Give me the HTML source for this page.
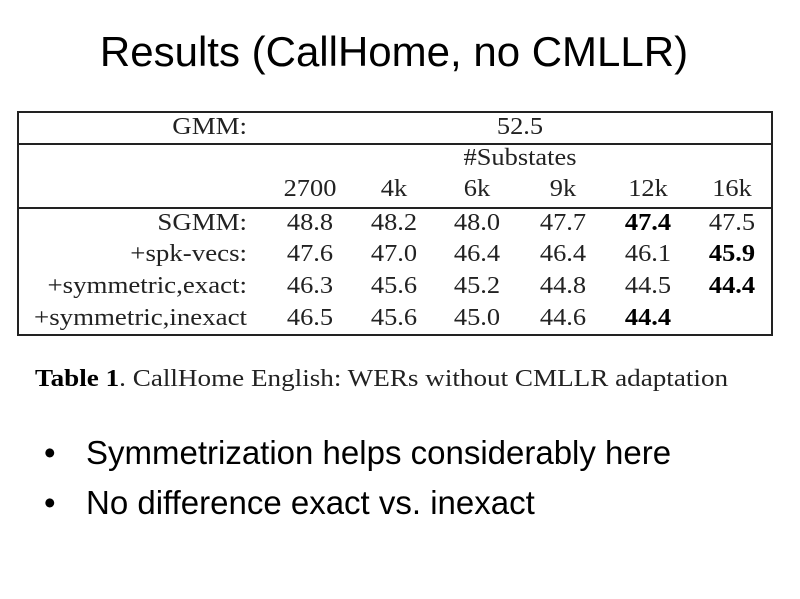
<!DOCTYPE html>
<html><head><meta charset="utf-8"><style>
body{margin:0;width:800px;height:599px;background:#fff;position:relative;overflow:hidden;font-family:"Liberation Sans",sans-serif;color:#000}
.a{position:absolute;white-space:nowrap}
.t{font-family:"Liberation Serif",serif;font-size:24px;color:#222}
.c{transform:translateX(-50%) scaleX(1.1)}
.r{transform-origin:right center;transform:translateX(-100%) scaleX(1.12)}
.b{font-weight:bold;color:#000}
.l{position:absolute;background:#222}
</style></head><body>
<div class="a" style="left:0;width:800px;text-align:center;top:28px;font-size:42px;transform:translateX(-6px)">Results (CallHome, no CMLLR)</div>
<div class="l" style="left:17px;top:111px;width:756px;height:2px"></div>
<div class="l" style="left:17px;top:334px;width:756px;height:2px"></div>
<div class="l" style="left:17px;top:111px;width:2px;height:225px"></div>
<div class="l" style="left:771px;top:111px;width:2px;height:225px"></div>
<div class="l" style="left:17px;top:143px;width:756px;height:2px"></div>
<div class="l" style="left:17px;top:207px;width:756px;height:2px"></div>

<div class="a t r" style="left:247px;top:114px">GMM:</div>
<div class="a t c" style="left:520px;top:114px">52.5</div>
<div class="a t c" style="left:520px;top:145px">#Substates</div>
<div class="a t c" style="left:310px;top:176px">2700</div>
<div class="a t c" style="left:394px;top:176px">4k</div>
<div class="a t c" style="left:477px;top:176px">6k</div>
<div class="a t c" style="left:563px;top:176px">9k</div>
<div class="a t c" style="left:648px;top:176px">12k</div>
<div class="a t c" style="left:732px;top:176px">16k</div>

<div class="a t r" style="left:247px;top:210px">SGMM:</div>
<div class="a t r" style="left:247px;top:241px">+spk-vecs:</div>
<div class="a t r" style="left:247px;top:273px">+symmetric,exact:</div>
<div class="a t r" style="left:247px;top:305px">+symmetric,inexact</div>

<div class="a t c" style="left:310px;top:210px">48.8</div>
<div class="a t c" style="left:394px;top:210px">48.2</div>
<div class="a t c" style="left:477px;top:210px">48.0</div>
<div class="a t c" style="left:563px;top:210px">47.7</div>
<div class="a t c b" style="left:648px;top:210px">47.4</div>
<div class="a t c" style="left:732px;top:210px">47.5</div>

<div class="a t c" style="left:310px;top:241px">47.6</div>
<div class="a t c" style="left:394px;top:241px">47.0</div>
<div class="a t c" style="left:477px;top:241px">46.4</div>
<div class="a t c" style="left:563px;top:241px">46.4</div>
<div class="a t c" style="left:648px;top:241px">46.1</div>
<div class="a t c b" style="left:732px;top:241px">45.9</div>

<div class="a t c" style="left:310px;top:273px">46.3</div>
<div class="a t c" style="left:394px;top:273px">45.6</div>
<div class="a t c" style="left:477px;top:273px">45.2</div>
<div class="a t c" style="left:563px;top:273px">44.8</div>
<div class="a t c" style="left:648px;top:273px">44.5</div>
<div class="a t c b" style="left:732px;top:273px">44.4</div>

<div class="a t c" style="left:310px;top:305px">46.5</div>
<div class="a t c" style="left:394px;top:305px">45.6</div>
<div class="a t c" style="left:477px;top:305px">45.0</div>
<div class="a t c" style="left:563px;top:305px">44.6</div>
<div class="a t c b" style="left:648px;top:305px">44.4</div>

<div class="a" style="left:35px;top:366px;font-family:'Liberation Serif',serif;font-size:24px;color:#222;transform-origin:left center;transform:scaleX(1.13)"><b style="color:#000">Table 1</b>. CallHome English: WERs without CMLLR adaptation</div>

<div class="a" style="left:44px;top:434px;font-size:33px">•</div>
<div class="a" style="left:86px;top:434px;font-size:33px">Symmetrization helps considerably here</div>
<div class="a" style="left:44px;top:484px;font-size:33px">•</div>
<div class="a" style="left:86px;top:484px;font-size:33px">No difference exact vs. inexact</div>
</body></html>
